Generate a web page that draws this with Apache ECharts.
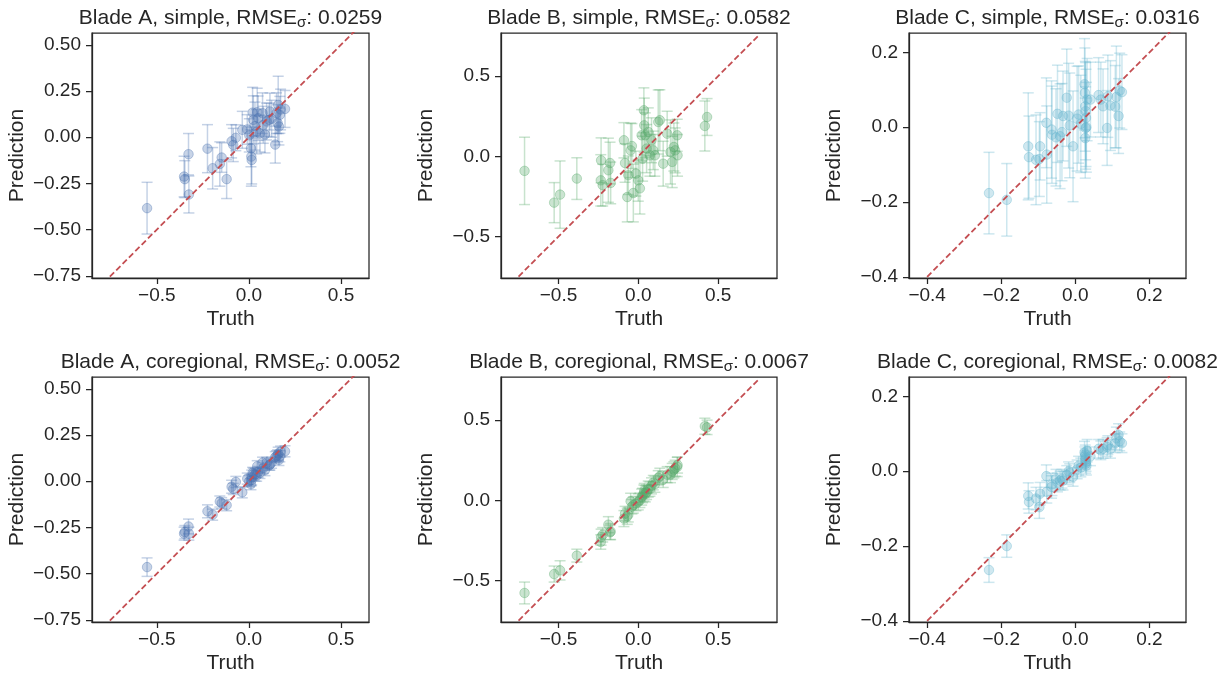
<!DOCTYPE html>
<html>
<head>
<meta charset="utf-8">
<script src="https://cdn.jsdelivr.net/npm/echarts@6/dist/echarts.min.js"></script>
<style>
html,body{margin:0;padding:0;background:#fff;}
#chart{width:1227px;height:675px;}
</style>
</head>
<body>
<div id="chart"></div>
<script>
// ---------------- DATA ----------------
const truthA = [-0.553, -0.352, -0.348, -0.328, -0.326, -0.225, -0.197, -0.158, -0.148, -0.121, -0.094, -0.085, -0.071, -0.036, -0.009, 0.002, 0.011, 0.013, 0.015, 0.02, 0.024, 0.033, 0.042, 0.045, 0.05, 0.06, 0.074, 0.078, 0.087, 0.096, 0.11, 0.114, 0.123, 0.143, 0.15, 0.156, 0.159, 0.163, 0.168, 0.172, 0.196];
const predA_simple = [-0.384, -0.213, -0.227, -0.092, -0.31, -0.062, -0.168, -0.145, -0.11, -0.227, -0.022, -0.042, -0.003, 0.04, 0.042, 0.01, -0.06, -0.105, -0.123, 0.133, 0.094, 0.06, 0.03, 0.135, 0.103, 0.02, 0.13, 0.067, 0.015, 0.085, 0.094, 0.139, 0.1, -0.04, 0.13, 0.076, 0.175, 0.058, 0.121, 0.15, 0.153];
const errA_simple = [0.14, 0.11, 0.1, 0.112, 0.1, 0.13, 0.112, 0.12, 0.08, 0.105, 0.09, 0.09, 0.07, 0.1, 0.08, 0.09, 0.1, 0.16, 0.13, 0.137, 0.13, 0.13, 0.12, 0.13, 0.12, 0.1, 0.11, 0.1, 0.1, 0.1, 0.09, 0.1, 0.1, 0.1, 0.11, 0.1, 0.155, 0.1, 0.1, 0.11, 0.1];
const predA_coreg = [-0.465, -0.284, -0.275, -0.245, -0.284, -0.163, -0.181, -0.11, -0.119, -0.13, -0.03, -0.042, -0.004, -0.06, 0.014, 0.0, -0.016, 0.005, 0.02, 0.045, 0.04, 0.036, 0.03, 0.081, 0.05, 0.045, 0.1, 0.072, 0.06, 0.099, 0.085, 0.09, 0.1, 0.13, 0.135, 0.14, 0.149, 0.115, 0.135, 0.16, 0.162];
const errA_coreg = [0.05, 0.035, 0.035, 0.04, 0.035, 0.035, 0.03, 0.03, 0.03, 0.03, 0.035, 0.03, 0.03, 0.03, 0.03, 0.03, 0.03, 0.03, 0.04, 0.03, 0.03, 0.035, 0.03, 0.03, 0.03, 0.03, 0.03, 0.03, 0.03, 0.03, 0.025, 0.03, 0.03, 0.03, 0.03, 0.03, 0.035, 0.03, 0.03, 0.03, 0.03];

const truthB = [-0.7125, -0.527, -0.49, -0.385, -0.235, -0.233, -0.223, -0.1875, -0.177, -0.173, -0.09, -0.083, -0.069, -0.0625, -0.048, -0.04, -0.031, -0.015, 0.0, 0.01, 0.021, 0.027, 0.035, 0.0375, 0.044, 0.052, 0.0625, 0.073, 0.083, 0.094, 0.104, 0.125, 0.135, 0.156, 0.181, 0.202, 0.2125, 0.223, 0.231, 0.244, 0.246, 0.417, 0.431];
const predB_simple = [-0.091, -0.289, -0.239, -0.139, -0.15, -0.025, -0.18, -0.087, -0.042, -0.166, 0.1, -0.042, -0.254, -0.118, 0.037, 0.064, -0.229, -0.108, -0.15, -0.2, 0.131, -0.015, 0.287, 0.193, 0.131, 0.048, 0.152, 0.006, 0.1, 0.037, 0.006, 0.214, 0.225, -0.046, 0.141, 0.027, -0.035, 0.058, 0.037, 0.131, 0.006, 0.189, 0.245];
const errB_simple = [0.21, 0.125, 0.21, 0.13, 0.16, 0.14, 0.13, 0.2, 0.13, 0.13, 0.11, 0.12, 0.155, 0.12, 0.17, 0.14, 0.18, 0.14, 0.13, 0.16, 0.16, 0.14, 0.14, 0.17, 0.14, 0.15, 0.15, 0.13, 0.14, 0.12, 0.13, 0.2, 0.19, 0.14, 0.14, 0.2, 0.16, 0.15, 0.14, 0.1, 0.13, 0.156, 0.115];
const predB_coreg = [-0.578, -0.46, -0.437, -0.345, -0.26, -0.23, -0.215, -0.152, -0.2, -0.195, -0.114, -0.083, -0.1, -0.09, -0.006, -0.04, -0.03, -0.02, -0.01, 0.0, 0.02, 0.03, 0.045, 0.06, 0.04, 0.05, 0.07, 0.07, 0.09, 0.11, 0.1, 0.14, 0.15, 0.13, 0.16, 0.16, 0.18, 0.19, 0.2, 0.208, 0.22, 0.462, 0.455];
const errB_coreg = [0.068, 0.05, 0.06, 0.04, 0.045, 0.05, 0.045, 0.05, 0.045, 0.05, 0.05, 0.045, 0.05, 0.045, 0.05, 0.045, 0.05, 0.045, 0.05, 0.045, 0.05, 0.045, 0.05, 0.045, 0.05, 0.045, 0.05, 0.045, 0.05, 0.045, 0.05, 0.045, 0.05, 0.05, 0.05, 0.05, 0.05, 0.05, 0.05, 0.06, 0.05, 0.05, 0.045];

const truthC = [-0.233, -0.185, -0.127, -0.125, -0.106, -0.097, -0.095, -0.078, -0.077, -0.064, -0.063, -0.052, -0.048, -0.041, -0.036, -0.033, -0.023, -0.018, -0.015, -0.006, 0.005, 0.009, 0.015, 0.025, 0.026, 0.027, 0.028, 0.029, 0.03, 0.028, 0.027, 0.032, 0.041, 0.063, 0.069, 0.075, 0.086, 0.088, 0.095, 0.108, 0.111, 0.117, 0.12, 0.126];
const predC_simple = [-0.176, -0.194, -0.051, -0.08, -0.087, -0.085, -0.051, 0.012, -0.073, -0.006, -0.02, -0.027, 0.036, -0.024, -0.013, 0.03, 0.079, 0.031, 0.005, -0.051, 0.023, 0.034, 0.009, 0.115, 0.092, 0.056, 0.043, 0.025, 0.0, -0.002, -0.029, 0.074, 0.074, 0.086, 0.074, 0.056, -0.002, 0.083, 0.058, 0.055, 0.081, 0.03, 0.098, 0.094];
const errC_simple = [0.109, 0.097, 0.143, 0.11, 0.12, 0.1, 0.09, 0.12, 0.13, 0.13, 0.13, 0.13, 0.13, 0.14, 0.13, 0.12, 0.13, 0.14, 0.14, 0.148, 0.14, 0.13, 0.13, 0.122, 0.12, 0.12, 0.13, 0.13, 0.12, 0.11, 0.107, 0.11, 0.1, 0.1, 0.1, 0.1, 0.1, 0.11, 0.12, 0.11, 0.136, 0.1, 0.1, 0.1];
const predC_coreg = [-0.264, -0.2, -0.066, -0.082, -0.073, -0.096, -0.06, -0.013, -0.055, -0.042, -0.035, -0.02, -0.03, -0.025, -0.02, -0.025, -0.01, 0.0, -0.005, -0.015, 0.005, 0.015, 0.01, 0.05, 0.04, 0.03, 0.02, 0.025, 0.015, 0.035, 0.045, 0.055, 0.04, 0.06, 0.056, 0.06, 0.065, 0.07, 0.06, 0.075, 0.088, 0.097, 0.08, 0.075];
const errC_coreg = [0.033, 0.03, 0.035, 0.03, 0.03, 0.03, 0.03, 0.03, 0.03, 0.03, 0.03, 0.025, 0.025, 0.025, 0.025, 0.025, 0.025, 0.025, 0.025, 0.025, 0.025, 0.025, 0.025, 0.03, 0.025, 0.025, 0.025, 0.025, 0.025, 0.025, 0.025, 0.03, 0.025, 0.025, 0.025, 0.025, 0.025, 0.025, 0.025, 0.025, 0.03, 0.03, 0.025, 0.025];

const rmse = {A: {simple: '0.0259', coregional: '0.0052'}, B: {simple: '0.0582', coregional: '0.0067'}, C: {simple: '0.0316', coregional: '0.0082'}};

const rangeA_x = [-0.852, 0.652], rangeA_y = [-0.762, 0.564];
const rangeB_x = [-0.86, 0.869], rangeB_y = [-0.759, 0.769];
const rangeC_x = [-0.449, 0.299], rangeC_y = [-0.403, 0.252];
const diagA = [-0.755, 0.7], diagB = [-0.75, 0.75], diagC = [-0.4, 0.3];

const ticksA_x = [-0.5, 0, 0.5], ticksA_y = [-0.75, -0.5, -0.25, 0, 0.25, 0.5];
const ticksB_x = [-0.5, 0, 0.5], ticksB_y = [-0.5, 0, 0.5];
const ticksC_x = [-0.4, -0.2, 0, 0.2], ticksC_y = [-0.4, -0.2, 0, 0.2];

// ---------------- LAYOUT ----------------
const FONT = '"Liberation Sans", Arial, sans-serif';
const INK = '#262626';
const cols = [{left: 92, width: 277}, {left: 501, width: 276}, {left: 909, width: 277}];
const rows = [{top: 33, height: 245}, {top: 377, height: 245}];

const blades = [
  {name: 'A', truth: truthA, color: [76, 114, 176], xr: rangeA_x, yr: rangeA_y, xt: ticksA_x, yt: ticksA_y, xd: 1, yd: 2, diag: diagA,
   runs: {simple: [predA_simple, errA_simple], coregional: [predA_coreg, errA_coreg]}},
  {name: 'B', truth: truthB, color: [85, 168, 104], xr: rangeB_x, yr: rangeB_y, xt: ticksB_x, yt: ticksB_y, xd: 1, yd: 1, diag: diagB,
   runs: {simple: [predB_simple, errB_simple], coregional: [predB_coreg, errB_coreg]}},
  {name: 'C', truth: truthC, color: [100, 181, 205], xr: rangeC_x, yr: rangeC_y, xt: ticksC_x, yt: ticksC_y, xd: 1, yd: 1, diag: diagC,
   runs: {simple: [predC_simple, errC_simple], coregional: [predC_coreg, errC_coreg]}}
];
const kinds = ['simple', 'coregional'];

function rgba(c, a) { return 'rgba(' + c[0] + ',' + c[1] + ',' + c[2] + ',' + a + ')'; }
function fmt(d) {
  return function (v) {
    const s = Math.abs(v).toFixed(d);
    return (v < -1e-9 ? '\u2212' : '') + s;
  };
}
function errRender(color) {
  return function (params, api) {
    const x = api.value(0), y = api.value(1), e = api.value(2);
    const p1 = api.coord([x, y + e]);
    const p2 = api.coord([x, y - e]);
    const c = 5.5;
    const st = {stroke: color, lineWidth: 1.5, fill: null};
    return {
      type: 'group',
      children: [
        {type: 'line', shape: {x1: p1[0], y1: p1[1], x2: p2[0], y2: p2[1]}, style: st},
        {type: 'line', shape: {x1: p1[0] - c, y1: p1[1], x2: p1[0] + c, y2: p1[1]}, style: st},
        {type: 'line', shape: {x1: p2[0] - c, y1: p2[1], x2: p2[0] + c, y2: p2[1]}, style: st}
      ]
    };
  };
}

const grid = [], xAxis = [], yAxis = [], series = [], graphic = [];
kinds.forEach(function (kind, r) {
  blades.forEach(function (b, c) {
    const idx = grid.length;
    grid.push({left: cols[c].left, top: rows[r].top, width: cols[c].width, height: rows[r].height,
      show: true, borderColor: INK, borderWidth: 1.25, backgroundColor: '#fff'});
    const axisCommon = {
      type: 'value', gridIndex: idx, splitLine: {show: false},
      axisLine: {show: true, onZero: false, lineStyle: {color: INK, width: 1.25}},
      nameLocation: 'middle',
      nameTextStyle: {fontSize: 21, color: INK, fontFamily: FONT}
    };
    xAxis.push(Object.assign({}, axisCommon, {
      min: b.xr[0], max: b.xr[1], name: 'Truth', nameGap: 31,
      axisTick: {show: true, customValues: b.xt, length: 6, lineStyle: {color: INK, width: 1.25}},
      axisLabel: {customValues: b.xt, formatter: fmt(b.xd), fontSize: 19, color: INK, fontFamily: FONT, margin: 8}
    }));
    yAxis.push(Object.assign({}, axisCommon, {
      min: b.yr[0], max: b.yr[1], name: 'Prediction', nameGap: 64,
      axisTick: {show: true, customValues: b.yt, length: 6, lineStyle: {color: INK, width: 1.25}},
      axisLabel: {customValues: b.yt, formatter: fmt(b.yd), fontSize: 19, color: INK, fontFamily: FONT, margin: 11}
    }));
    const pred = b.runs[kind][0], err = b.runs[kind][1];
    const pts = b.truth.map(function (t, i) { return [t, pred[i], err[i]]; });
    series.push({
      type: 'custom', xAxisIndex: idx, yAxisIndex: idx, clip: true,
      renderItem: errRender(rgba(b.color, 0.32)),
      encode: {x: 0, y: 1}, data: pts, z: 2
    });
    series.push({
      type: 'scatter', xAxisIndex: idx, yAxisIndex: idx, symbol: 'circle', symbolSize: 9.5,
      itemStyle: {color: rgba(b.color, 0.38), borderColor: rgba(b.color, 0.45), borderWidth: 1},
      data: pts.map(function (p) { return [p[0], p[1]]; }), z: 3
    });
    series.push({
      type: 'line', xAxisIndex: idx, yAxisIndex: idx, symbol: 'none', clip: true,
      lineStyle: {color: '#C44E52', width: 1.8, type: [6, 3]},
      data: [[b.diag[0], b.diag[0]], [b.diag[1], b.diag[1]]], z: 4
    });
    graphic.push({
      type: 'text', x: cols[c].left + cols[c].width / 2, y: rows[r].top - 26,
      style: {
        text: 'Blade ' + b.name + ', ' + kind + ', RMSE{sub|\u03C3}: ' + rmse[b.name][kind],
        fontSize: 21, fontFamily: FONT, fill: INK, align: 'center', verticalAlign: 'top', lineHeight: 23,
        rich: {sub: {fontSize: 15, fontFamily: FONT, fill: INK, lineHeight: 10, verticalAlign: 'bottom'}}
      }
    });
  });
});

const chart = echarts.init(document.getElementById('chart'), null, {renderer: 'canvas'});
chart.setOption({
  animation: false,
  backgroundColor: '#fff',
  textStyle: {fontFamily: FONT},
  grid: grid, xAxis: xAxis, yAxis: yAxis, series: series, graphic: graphic
});
</script>
</body>
</html>
